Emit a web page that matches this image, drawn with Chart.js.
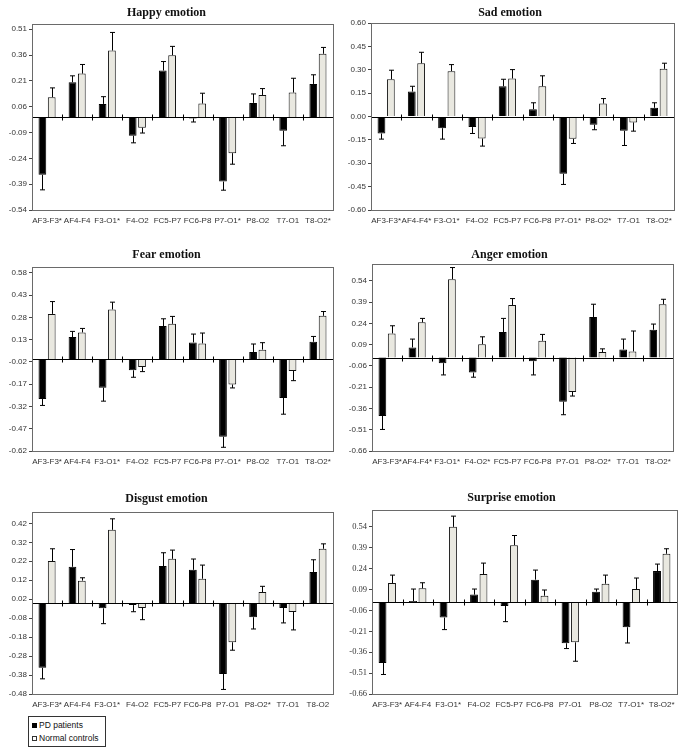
<!DOCTYPE html>
<html>
<head>
<meta charset="utf-8">
<script src="https://cdn.jsdelivr.net/npm/chart.js@4.4.1/dist/chart.umd.min.js"></script>
<style>
  body { margin: 0; background: #fff; }
  #wrap { position: relative; width: 685px; height: 751px; overflow: hidden; }
  canvas { position: absolute; }
  #legend { position: absolute; left: 28px; top: 716px; width: 78px; height: 31px; border: 1px solid #333;
            font: 8.5px "Liberation Sans", Arial, sans-serif; color: #111; box-sizing: border-box; padding: 2px 0 0 3px; }
  #legend div { height: 13px; line-height: 13px; white-space: nowrap; color: #111; }
  #legend span { display: inline-block; width: 5px; height: 5px; margin-right: 2px; vertical-align: 0px; box-sizing: border-box; }
</style>
</head>
<body>
<div id="wrap">
  <canvas id="c1"></canvas><canvas id="c2"></canvas>
  <canvas id="c3"></canvas><canvas id="c4"></canvas>
  <canvas id="c5"></canvas><canvas id="c6"></canvas>
  <div id="legend">
    <div><span style="background:#000"></span>PD patients</div>
    <div><span style="background:#fff;border:1px solid #333"></span>Normal controls</div>
  </div>
</div>
<script>
// ---- data ----
const happyLabels = ['AF3-F3*', 'AF4-F4', 'F3-O1*', 'F4-O2', 'FC5-P7', 'FC6-P8', 'P7-O1*', 'P8-O2', 'T7-O1', 'T8-O2*'];
const happyPD    = [-0.336, 0.202, 0.076, -0.109, 0.270, -0.008, -0.375, 0.082, -0.080, 0.192];
const happyPDErr = [0.087, 0.037, 0.042, 0.041, 0.052, 0.021, 0.050, 0.052, 0.087, 0.053];
const happyNC    = [0.115, 0.252, 0.386, -0.062, 0.359, 0.078, -0.210, 0.128, 0.142, 0.367];
const happyNCErr = [0.054, 0.053, 0.105, 0.031, 0.051, 0.060, 0.064, 0.037, 0.083, 0.037];
const happyTicks = [-0.54, -0.39, -0.24, -0.09, 0.06, 0.21, 0.36, 0.51];

const sadLabels = ['AF3-F3*', 'AF4-F4*', 'F3-O1*', 'F4-O2', 'FC5-P7', 'FC6-P8', 'P7-O1*', 'P8-O2*', 'T7-O1', 'T8-O2*'];
const sadPD    = [-0.109, 0.160, -0.075, -0.068, 0.194, 0.047, -0.368, -0.053, -0.092, 0.056];
const sadPDErr = [0.036, 0.034, 0.070, 0.041, 0.045, 0.041, 0.068, 0.032, 0.094, 0.032];
const sadNC    = [0.239, 0.342, 0.291, -0.141, 0.244, 0.194, -0.143, 0.083, -0.038, 0.306];
const sadNCErr = [0.058, 0.070, 0.042, 0.049, 0.057, 0.067, 0.030, 0.032, 0.056, 0.036];
const sadTicks = [-0.60, -0.45, -0.30, -0.15, 0.00, 0.15, 0.30, 0.45, 0.60];

const fearLabels = ['AF3-F3*', 'AF4-F4', 'F3-O1*', 'F4-O2', 'FC5-P7', 'FC6-P8', 'P7-O1*', 'P8-O2', 'T7-O1', 'T8-O2*'];
const fearPD    = [-0.269, 0.148, -0.193, -0.076, 0.222, 0.112, -0.524, 0.047, -0.262, 0.116];
const fearPDErr = [0.044, 0.038, 0.091, 0.047, 0.049, 0.056, 0.071, 0.054, 0.110, 0.036];
const fearNC    = [0.304, 0.179, 0.334, -0.054, 0.237, 0.105, -0.172, 0.063, -0.081, 0.291];
const fearNCErr = [0.083, 0.027, 0.049, 0.031, 0.050, 0.070, 0.023, 0.047, 0.065, 0.029];
const fearTicks = [-0.62, -0.47, -0.32, -0.17, -0.02, 0.13, 0.28, 0.43, 0.58];

const angerLabels = ['AF3-F3*', 'AF4-F4*', 'F3-O1*', 'F4-O2*', 'FC5-P7', 'FC6-P8', 'P7-O1', 'P8-O2*', 'T7-O1', 'T8-O2*'];
const angerPD    = [-0.413, 0.071, -0.040, -0.106, 0.180, -0.026, -0.312, 0.286, 0.057, 0.196];
const angerPDErr = [0.095, 0.059, 0.083, 0.033, 0.096, 0.097, 0.092, 0.090, 0.073, 0.040];
const angerNC    = [0.170, 0.248, 0.553, 0.094, 0.371, 0.118, -0.243, 0.038, 0.043, 0.376];
const angerNCErr = [0.054, 0.028, 0.082, 0.052, 0.045, 0.045, 0.029, 0.023, 0.144, 0.035];
const angerTicks = [-0.66, -0.51, -0.36, -0.21, -0.06, 0.09, 0.24, 0.39, 0.54];

const disgustLabels = ['AF3-F3*', 'AF4-F4', 'F3-O1*', 'F4-O2', 'FC5-P7', 'FC6-P8', 'P7-O1', 'P8-O2*', 'T7-O1', 'T8-O2'];
const disgustPD    = [-0.342, 0.191, -0.028, -0.011, 0.195, 0.175, -0.374, -0.075, -0.026, 0.163];
const disgustPDErr = [0.058, 0.091, 0.081, 0.035, 0.070, 0.057, 0.082, 0.062, 0.079, 0.065];
const disgustNC    = [0.221, 0.118, 0.386, -0.026, 0.233, 0.128, -0.207, 0.058, -0.047, 0.286];
const disgustNCErr = [0.065, 0.015, 0.058, 0.062, 0.046, 0.072, 0.042, 0.030, 0.095, 0.026];
const disgustTicks = [-0.48, -0.38, -0.28, -0.18, -0.08, 0.02, 0.12, 0.22, 0.32, 0.42];

const surpriseLabels = ['AF3-F3*', 'AF4-F4', 'F3-O1*', 'F4-O2', 'FC5-P7', 'FC6-P8', 'P7-O1', 'P8-O2', 'T7-O1*', 'T8-O2*'];
const surprisePD    = [-0.437, 0.007, -0.112, 0.053, -0.029, 0.160, -0.296, 0.074, -0.181, 0.222];
const surprisePDErr = [0.083, 0.086, 0.086, 0.040, 0.112, 0.069, 0.038, 0.019, 0.113, 0.050];
const surpriseNC    = [0.136, 0.098, 0.539, 0.200, 0.408, 0.045, -0.289, 0.131, 0.093, 0.346];
const surpriseNCErr = [0.057, 0.040, 0.077, 0.079, 0.069, 0.041, 0.136, 0.062, 0.079, 0.036];
const surpriseTicks = [-0.66, -0.51, -0.36, -0.21, -0.06, 0.09, 0.24, 0.39, 0.54];

const seriesNames = ['PD patients', 'Normal controls'];

// frame, zero line with category ticks, and one-sided error bars
const excelLook = {
  id: 'excelLook',
  afterDatasetsDraw(chart) {
    const ctx = chart.ctx, a = chart.chartArea;
    const xs = chart.scales.x, ys = chart.scales.y;
    ctx.save();
    ctx.strokeStyle = '#000';
    ctx.lineWidth = 1;
    chart.data.datasets.forEach((ds, di) => {
      chart.getDatasetMeta(di).data.forEach((bar, i) => {
        const v = ds.data[i], e = ds.err[i];
        const yEnd = ys.getPixelForValue(v + (v < 0 ? -e : e));
        const x = Math.round(bar.x) + 0.5;
        ctx.beginPath();
        ctx.moveTo(x, bar.y);
        ctx.lineTo(x, yEnd);
        ctx.moveTo(x - 2.5, yEnd);
        ctx.lineTo(x + 2.5, yEnd);
        ctx.stroke();
      });
    });
    const y0 = Math.round(ys.getPixelForValue(0)) + 0.5;
    ctx.beginPath();
    ctx.moveTo(a.left, y0);
    ctx.lineTo(a.right, y0);
    const n = chart.data.labels.length;
    for (let i = 1; i < n; i++) {
      const x = Math.round((xs.getPixelForValue(i - 1) + xs.getPixelForValue(i)) / 2) + 0.5;
      ctx.moveTo(x, y0 - 3);
      ctx.lineTo(x, y0 + 3);
    }
    ctx.stroke();
    ctx.strokeStyle = '#6a6a6a';
    ctx.strokeRect(Math.round(a.left) + 0.5, Math.round(a.top) + 0.5,
                   Math.round(a.right - a.left), Math.round(a.bottom - a.top));
    ctx.restore();
  }
};

function makeChart(id, box, title, labels, pd, pdErr, nc, ncErr, ticks, lim, tickFont) {
  const cv = document.getElementById(id);
  cv.width = box.w; cv.height = box.h;
  cv.style.left = box.x + 'px'; cv.style.top = box.y + 'px';
  const [L, T, R, B] = box.plot;
  new Chart(cv, {
    type: 'bar',
    data: {
      labels: labels,
      datasets: [
        { label: seriesNames[0], data: pd, err: pdErr, backgroundColor: '#000', borderColor: '#000', borderWidth: 1 },
        { label: seriesNames[1], data: nc, err: ncErr, backgroundColor: '#e9e8e0', borderColor: '#111', borderWidth: 1 }
      ]
    },
    options: {
      responsive: false,
      animation: false,
      devicePixelRatio: 1,
      categoryPercentage: 0.62,
      barPercentage: 0.83,
      layout: { padding: { left: 0, top: 0, right: box.x + box.w - R, bottom: 0 } },
      plugins: {
        legend: { display: false },
        tooltip: { enabled: false },
        title: {
          display: true, text: title, color: '#111',
          font: { family: 'Liberation Serif', size: 12, weight: 'bold', lineHeight: 1.2 },
          padding: { top: box.titleY - box.y - 7.2, bottom: T - box.titleY - 7.2 }
        }
      },
      scales: {
        x: {
          grid: { display: false, drawTicks: false },
          border: { display: false },
          ticks: { autoSkip: false, maxRotation: 0, minRotation: 0, padding: 6, color: '#333',
                   font: { family: 'Liberation Sans', size: 8 } },
          afterFit: s => { s.height = box.y + box.h - B; }
        },
        y: {
          min: -lim, max: lim,
          grid: { drawOnChartArea: false, drawTicks: true, tickLength: 3, color: '#444' },
          border: { display: false },
          ticks: { padding: 2, color: '#333', font: tickFont || { family: 'Liberation Sans', size: 8 },
                   callback: v => Number(v).toFixed(2) },
          afterBuildTicks: s => { s.ticks = ticks.map(v => ({ value: v })); },
          afterFit: s => { s.width = L - box.x; }
        }
      }
    },
    plugins: [excelLook]
  });
}

makeChart('c1', { x: 0, y: 0, w: 346, h: 232, titleY: 13, plot: [32, 24, 333, 210] },
  'Happy emotion', happyLabels, happyPD, happyPDErr, happyNC, happyNCErr, happyTicks, 0.54);
makeChart('c2', { x: 346, y: 0, w: 339, h: 232, titleY: 13, plot: [371, 23, 674, 210] },
  'Sad emotion', sadLabels, sadPD, sadPDErr, sadNC, sadNCErr, sadTicks, 0.60);
makeChart('c3', { x: 0, y: 240, w: 346, h: 232, titleY: 255, plot: [32, 267, 333, 451] },
  'Fear emotion', fearLabels, fearPD, fearPDErr, fearNC, fearNCErr, fearTicks, 0.62);
makeChart('c4', { x: 346, y: 240, w: 339, h: 232, titleY: 255, plot: [372, 264, 673, 451] },
  'Anger emotion', angerLabels, angerPD, angerPDErr, angerNC, angerNCErr, angerTicks, 0.66);
makeChart('c5', { x: 0, y: 480, w: 346, h: 236, titleY: 499, plot: [32, 512, 333, 694] },
  'Disgust emotion', disgustLabels, disgustPD, disgustPDErr, disgustNC, disgustNCErr, disgustTicks, 0.48);
makeChart('c6', { x: 346, y: 480, w: 339, h: 236, titleY: 498, plot: [372, 510, 677, 694] },
  'Surprise emotion', surpriseLabels, surprisePD, surprisePDErr, surpriseNC, surpriseNCErr, surpriseTicks, 0.66,
  { family: 'Liberation Serif', size: 8.5 });
</script>
</body>
</html>
